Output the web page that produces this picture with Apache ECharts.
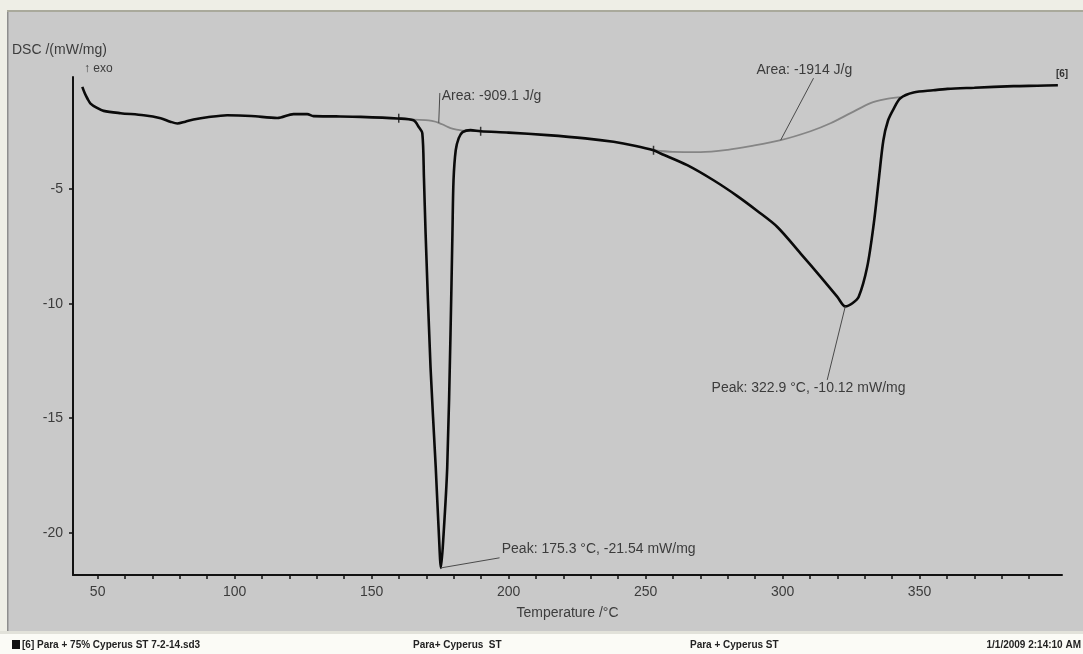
<!DOCTYPE html>
<html>
<head>
<meta charset="utf-8">
<title>DSC</title>
<script src="https://cdn.jsdelivr.net/npm/echarts@6/dist/echarts.min.js"></script>
<style>
  html, body { margin: 0; padding: 0; background: #efefe8; }
  #main { width: 1083px; height: 654px; }
</style>
</head>
<body>
<div id="main"></div>
<script>
// DSC curve, temperature /°C vs DSC /(mW/mg)
var temp = [44.4, 45.3, 46.3, 47.4, 49.6, 52.2, 58.4, 66.8, 73, 76.5, 79.1, 82, 85, 90, 97.3, 106, 115.6, 121.5, 126.5, 128.8,
  137, 146, 159.4, 165.3, 167.2, 168.5, 169.1, 169.7, 171.5, 173.4, 174.6, 175.3, 176.2, 177.6, 178.8, 179.5, 179.9, 180.7,
  181.8, 183.2, 186.1, 189.8, 200, 214.2, 228, 238.3, 246, 252.9, 255.5, 265.2, 274.8, 283.5, 290.8, 298.1, 306.6, 313.9,
  320, 322.9, 325.5, 327.8, 330.9, 333.3, 335.1, 336.8, 338.5, 340.5, 343, 347.8, 355, 360.2, 370, 384.3, 393, 400.5];
var dsc = [-0.53, -0.81, -1.05, -1.26, -1.44, -1.58, -1.68, -1.77, -1.9, -2.05, -2.13, -2.05, -1.96, -1.86, -1.77, -1.8, -1.89, -1.72, -1.72, -1.81,
  -1.82, -1.84, -1.91, -1.99, -2.28, -2.55, -4.5, -6.92, -12.77, -17.14, -20.2, -21.54, -20.2, -17.14, -11.29, -6.92, -4.6, -3.3,
  -2.77, -2.51, -2.42, -2.47, -2.53, -2.64, -2.78, -2.93, -3.1, -3.3, -3.44, -3.95, -4.61, -5.3, -5.95, -6.65, -7.81, -8.83,
  -9.7, -10.12, -9.98, -9.7, -8.39, -6.5, -4.61, -2.86, -2.0, -1.5, -1.03, -0.78, -0.68, -0.62, -0.57, -0.5, -0.48, -0.46];

// integration baselines
var base1Temp = [159.9, 165.3, 169.7, 172, 174.5, 176.7, 178.8, 181, 183.2, 189.8];
var base1Dsc = [-1.9, -1.96, -1.98, -2.02, -2.1, -2.22, -2.33, -2.4, -2.44, -2.47];
var base2Temp = [252.9, 260, 270.1, 280, 288.3, 299.3, 310.2, 317.5, 324.8, 332.1, 337.6, 343];
var base2Dsc = [-3.3, -3.37, -3.38, -3.28, -3.12, -2.86, -2.47, -2.12, -1.68, -1.24, -1.07, -0.98];

// integration limit marks
var limitTemp = [159.9, 189.8, 252.9];
var limitDsc = [-1.9, -2.47, -3.3];

var xTicks = [50, 100, 150, 200, 250, 300, 350];
var xMinorTicks = [50, 60, 70, 80, 90, 100, 110, 120, 130, 140, 150, 160, 170, 180, 190, 200, 210, 220, 230, 240,
  250, 260, 270, 280, 290, 300, 310, 320, 330, 340, 350, 360, 370, 380, 390];
var yTicks = [-20, -15, -10, -5];

// annotations: [text, anchor point, line end, text position]
var notes = [
  ['Area: -909.1 J/g', [174.5, -2.1], [174.9, -0.8], [175.6, -0.93]],
  ['Area: -1914 J/g', [299.3, -2.86], [311.3, -0.15], [290.5, 0.21]],
  ['Peak: 322.9 °C, -10.12 mW/mg', [322.9, -10.12], [316.3, -13.33], [274.1, -13.68]],
  ['Peak: 175.3 °C, -21.54 mW/mg', [175.3, -21.54], [196.7, -21.1], [197.5, -20.71]]
];

function pairs(xs, ys) {
  return xs.map(function (x, i) { return [x, ys[i]]; });
}

var font = 'Liberation Sans, Arial, sans-serif';
var chart = echarts.init(document.getElementById('main'), null, { renderer: 'canvas' });

var option = {
  backgroundColor: '#c9c9c9',
  animation: false,
  grid: { left: 73, top: 77, width: 989, height: 498, containLabel: false },
  xAxis: {
    type: 'value', min: 41, max: 402,
    name: 'Temperature /°C', nameLocation: 'middle', nameGap: 31,
    nameTextStyle: { color: '#3c3c3c', fontSize: 14, fontFamily: font },
    axisLine: { show: true, onZero: false, lineStyle: { color: '#111', width: 2 } },
    axisTick: { show: true, customValues: xMinorTicks, length: 4, lineStyle: { color: '#111', width: 1.5 } },
    axisLabel: { customValues: xTicks, color: '#3c3c3c', fontSize: 14, fontFamily: font, margin: 10 },
    splitLine: { show: false }
  },
  yAxis: {
    type: 'value', min: -21.85, max: -0.1,
    axisLine: { show: true, onZero: false, lineStyle: { color: '#111', width: 2 } },
    axisTick: { show: true, customValues: yTicks, length: 4, lineStyle: { color: '#111', width: 1.5 } },
    axisLabel: { customValues: yTicks, color: '#3c3c3c', fontSize: 14, fontFamily: font, margin: 10 },
    splitLine: { show: false }
  },
  series: [
    {
      type: 'line', data: pairs(base1Temp, base1Dsc), showSymbol: false, smooth: 0.3, z: 2,
      lineStyle: { color: '#858585', width: 1.8 }
    },
    {
      type: 'line', data: pairs(base2Temp, base2Dsc), showSymbol: false, smooth: 0.3, z: 2,
      lineStyle: { color: '#858585', width: 1.8 }
    },
    {
      type: 'line', data: pairs(temp, dsc), showSymbol: false, smooth: 0.3, z: 3,
      lineStyle: { color: '#0a0a0a', width: 2.6 }
    },
    {
      type: 'scatter', data: pairs(limitTemp, limitDsc), symbol: 'rect', symbolSize: [1.5, 9], z: 4,
      itemStyle: { color: '#111' }
    }
  ]
};
chart.setOption(option);

var g = [
  { type: 'rect', shape: { x: 0, y: 0, width: 1083, height: 10 }, style: { fill: '#eeeee6' }, z: 10 },
  { type: 'rect', shape: { x: 0, y: 10, width: 1083, height: 2 }, style: { fill: '#a9a99b' }, z: 10 },
  { type: 'rect', shape: { x: 0, y: 0, width: 7, height: 654 }, style: { fill: '#eeeee6' }, z: 10 },
  { type: 'rect', shape: { x: 7, y: 12, width: 1.5, height: 620 }, style: { fill: '#8e8e8e' }, z: 10 },
  { type: 'rect', shape: { x: 0, y: 631, width: 1083, height: 3 }, style: { fill: '#e2e2da' }, z: 10 },
  { type: 'rect', shape: { x: 0, y: 634, width: 1083, height: 20 }, style: { fill: '#fbfbf6' }, z: 10 },
  { type: 'rect', shape: { x: 12, y: 640, width: 8, height: 9 }, style: { fill: '#111' }, z: 11 },
  { type: 'text', x: 22, y: 645, style: { text: '[6] Para + 75% Cyperus ST 7-2-14.sd3', font: 'bold 10px ' + font, fill: '#222', textVerticalAlign: 'middle' }, z: 11 },
  { type: 'text', x: 413, y: 645, style: { text: 'Para+ Cyperus  ST', font: 'bold 10px ' + font, fill: '#222', textVerticalAlign: 'middle' }, z: 11 },
  { type: 'text', x: 690, y: 645, style: { text: 'Para + Cyperus ST', font: 'bold 10px ' + font, fill: '#222', textVerticalAlign: 'middle' }, z: 11 },
  { type: 'text', x: 1081, y: 645, style: { text: '1/1/2009 2:14:10 AM', font: 'bold 10px ' + font, fill: '#222', textAlign: 'right', textVerticalAlign: 'middle' }, z: 11 },
  { type: 'text', x: 12, y: 50, style: { text: 'DSC /(mW/mg)', font: '14px ' + font, fill: '#3c3c3c', textVerticalAlign: 'middle' }, z: 11 },
  { type: 'text', x: 84, y: 69, style: { text: '↑ exo', font: '12px ' + font, fill: '#3c3c3c', textVerticalAlign: 'middle' }, z: 11 }
];

notes.forEach(function (n) {
  var a = chart.convertToPixel({ gridIndex: 0 }, n[1]);
  var b = chart.convertToPixel({ gridIndex: 0 }, n[2]);
  var t = chart.convertToPixel({ gridIndex: 0 }, n[3]);
  g.push({ type: 'line', shape: { x1: a[0], y1: a[1], x2: b[0], y2: b[1] }, style: { stroke: '#4a4a4a', lineWidth: 1 }, z: 11 });
  g.push({ type: 'text', x: t[0], y: t[1], style: { text: n[0], font: '14px ' + font, fill: '#3c3c3c', textVerticalAlign: 'middle' }, z: 11 });
});

var endPt = chart.convertToPixel({ gridIndex: 0 }, [temp[temp.length - 1], dsc[dsc.length - 1]]);
g.push({ type: 'text', x: endPt[0] - 2, y: endPt[1] - 11, style: { text: '[6]', font: 'bold 10px ' + font, fill: '#333', textVerticalAlign: 'middle' }, z: 11 });

chart.setOption({ graphic: g });
</script>
</body>
</html>
